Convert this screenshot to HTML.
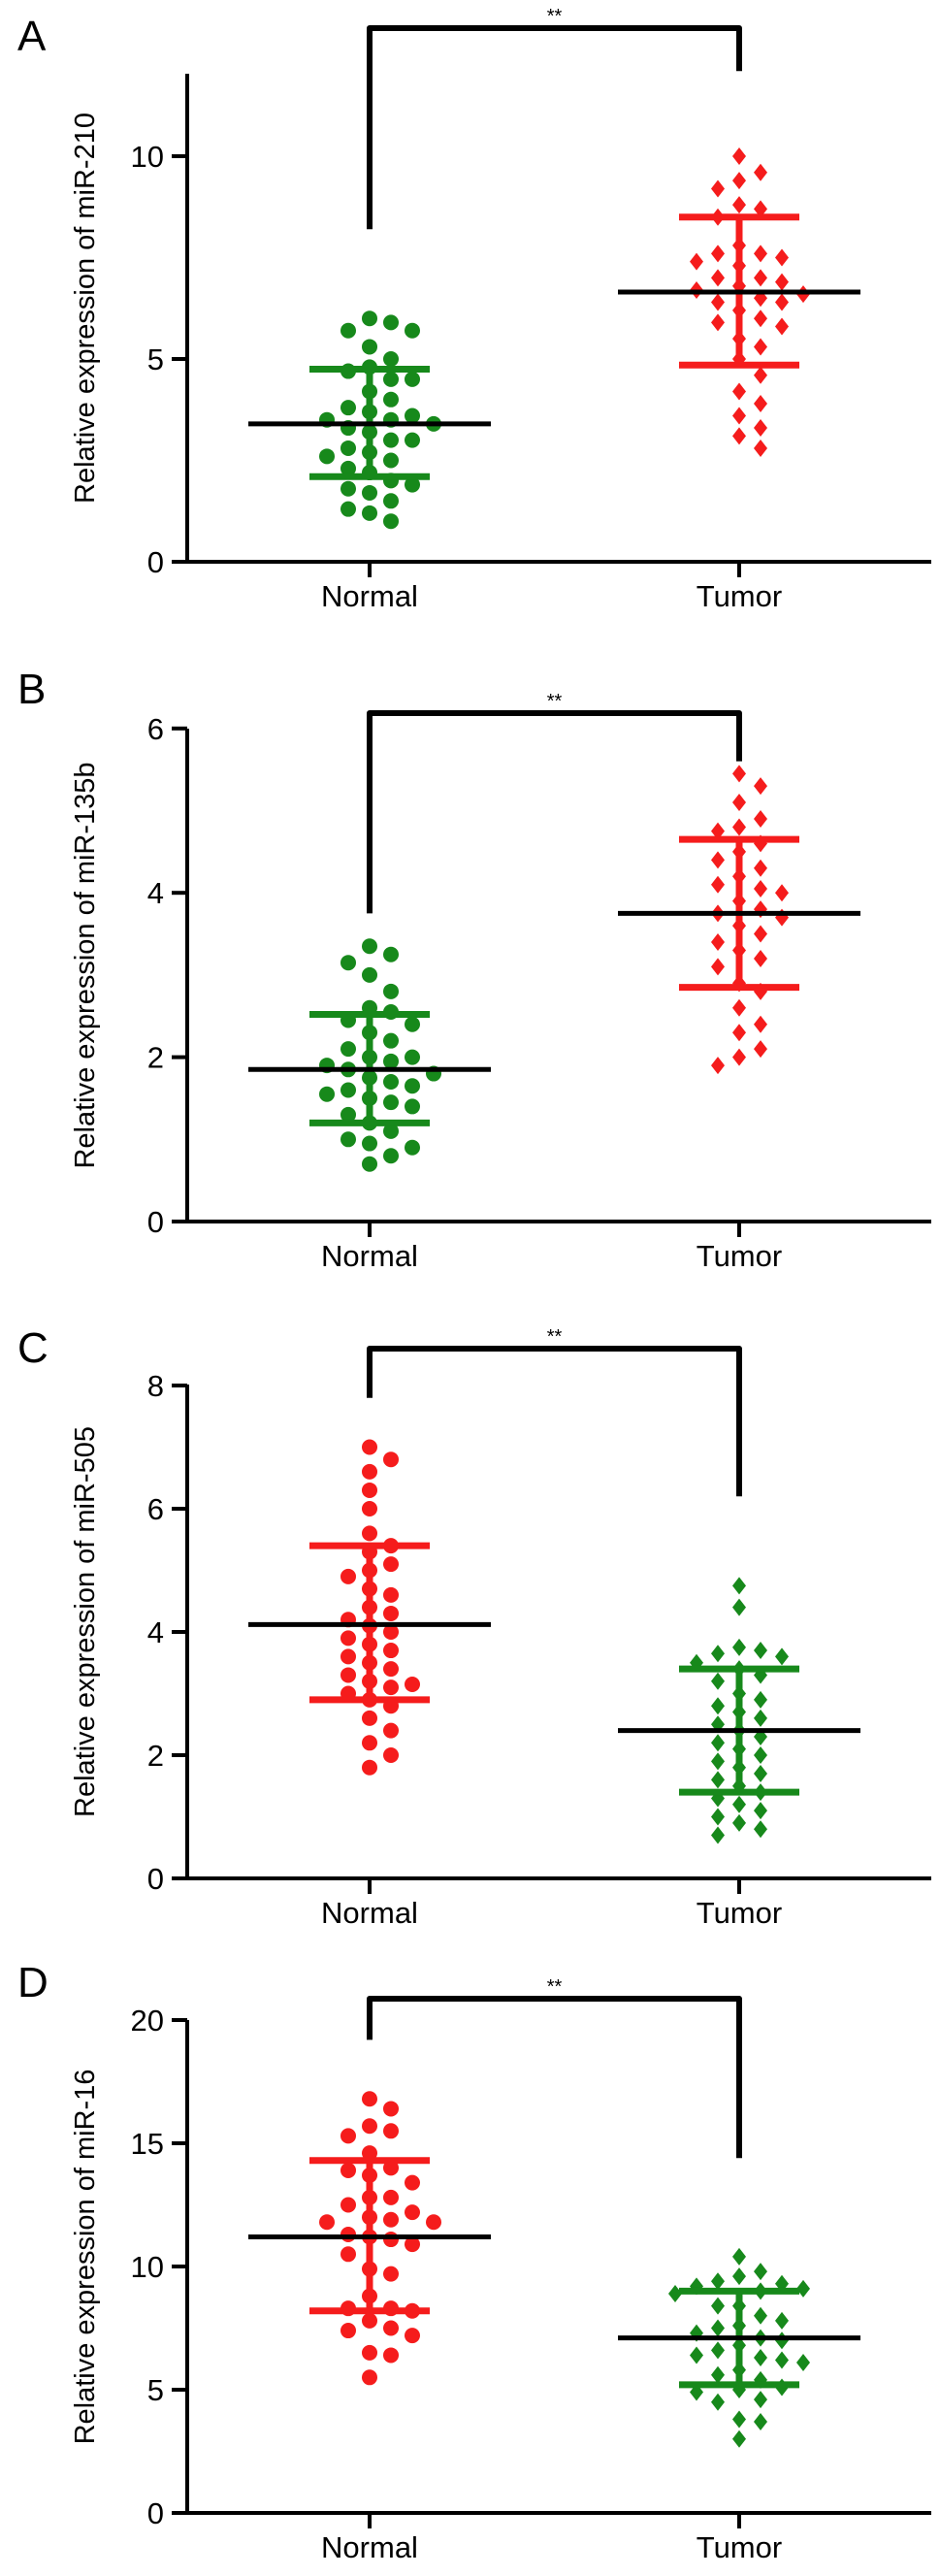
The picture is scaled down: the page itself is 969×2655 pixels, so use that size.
<!DOCTYPE html>
<html><head><meta charset="utf-8"><style>
html,body{margin:0;padding:0;background:#fff;}
svg{display:block;font-family:"Liberation Sans",Arial,sans-serif;}
</style></head><body>
<svg id="fig" width="969" height="2655" viewBox="0 0 969 2655" xmlns="http://www.w3.org/2000/svg"></svg>
<script>
const categories = ["Normal", "Tumor"];
const titles = ["Relative expression of miR-210","Relative expression of miR-135b","Relative expression of miR-505","Relative expression of miR-16"];
const ticksA = [0,5,10], ticksB = [0,2,4,6], ticksC = [0,2,4,6,8], ticksD = [0,5,10,15,20];

const aNormal = [6.0,5.9,5.7,5.7,5.3,5.0,4.8,4.7,4.5,4.5,4.2,4.0,3.8,3.7,3.6,3.5,3.5,3.4,3.3,3.2,3.0,3.0,2.8,2.7,2.6,2.5,2.3,2.2,2.0,1.9,1.8,1.7,1.5,1.3,1.2,1.0];
const aTumor = [10.0,9.6,9.4,9.2,8.8,8.7,8.5,7.8,7.6,7.6,7.5,7.4,7.3,7.0,7.0,6.9,6.8,6.7,6.6,6.5,6.4,6.4,6.2,6.0,5.9,5.8,5.5,5.3,5.0,4.6,4.2,3.9,3.6,3.3,3.1,2.8];
const aMean = [3.4, 6.65], aLow = [2.1, 4.85], aHigh = [4.75, 8.5];

const bNormal = [3.35,3.25,3.15,3.0,2.8,2.6,2.55,2.45,2.4,2.3,2.2,2.1,2.0,2.0,1.95,1.9,1.85,1.8,1.75,1.7,1.65,1.6,1.55,1.5,1.45,1.4,1.3,1.2,1.1,1.0,0.95,0.9,0.8,0.7];
const bTumor = [5.45,5.3,5.1,4.9,4.8,4.75,4.6,4.5,4.4,4.3,4.2,4.1,4.05,4.0,3.9,3.8,3.75,3.7,3.6,3.5,3.4,3.3,3.2,3.1,2.9,2.8,2.6,2.4,2.3,2.1,2.0,1.9];
const bMean = [1.85, 3.75], bLow = [1.2, 2.85], bHigh = [2.52, 4.65];

const cNormal = [7.0,6.8,6.6,6.3,6.0,5.6,5.4,5.3,5.1,5.0,4.9,4.7,4.6,4.4,4.3,4.2,4.1,4.0,3.9,3.8,3.7,3.6,3.5,3.4,3.3,3.2,3.15,3.1,3.0,2.9,2.8,2.6,2.4,2.2,2.0,1.8];
const cTumor = [4.75,4.4,3.75,3.7,3.65,3.6,3.5,3.4,3.3,3.2,3.0,2.9,2.8,2.7,2.6,2.5,2.4,2.3,2.2,2.1,2.0,1.9,1.8,1.7,1.6,1.5,1.4,1.3,1.2,1.1,1.0,0.9,0.8,0.7];
const cMean = [4.12, 2.4], cLow = [2.9, 1.4], cHigh = [5.4, 3.4];

const dNormal = [16.8,16.4,15.7,15.5,15.3,14.6,14.0,13.9,13.7,13.4,12.8,12.8,12.5,12.2,12.0,11.9,11.8,11.8,11.3,11.2,11.1,10.9,10.5,9.9,9.7,8.8,8.3,8.3,8.2,7.8,7.5,7.4,7.2,6.5,6.4,5.5];
const dTumor = [10.4,9.8,9.6,9.4,9.3,9.2,9.1,9.0,8.9,8.4,8.4,8.0,7.8,7.6,7.5,7.3,7.1,7.0,6.8,6.6,6.4,6.3,6.2,6.1,5.8,5.6,5.4,5.1,5.0,4.9,4.6,4.5,3.8,3.7,3.0];
const dMean = [11.2, 7.1], dLow = [8.2, 5.2], dHigh = [14.3, 9.0];

const GREEN = "#17891b", RED = "#f51c1c";
const NS = "http://www.w3.org/2000/svg";
const svg = document.getElementById("fig");
function mk(tag, attrs, parent){
  const e = document.createElementNS(NS, tag);
  for (const k in attrs) e.setAttribute(k, attrs[k]);
  (parent||svg).appendChild(e);
  return e;
}

const panels = [
  {letter:"A", letterY:52, y0:579, ppu:41.8, axisTop:76, ticks:ticksA, title:titles[0], brTop:29, brL:8.2, brR:12.1,
   groups:[aNormal,aTumor], mean:aMean, low:aLow, high:aHigh, colors:[GREEN,RED], shapes:["circle","diamond"]},
  {letter:"B", letterY:725, y0:1259, ppu:84.7, axisTop:751, ticks:ticksB, title:titles[1], brTop:735, brL:3.75, brR:5.6,
   groups:[bNormal,bTumor], mean:bMean, low:bLow, high:bHigh, colors:[GREEN,RED], shapes:["circle","diamond"]},
  {letter:"C", letterY:1404, y0:1936, ppu:63.5, axisTop:1427, ticks:ticksC, title:titles[2], brTop:1390, brL:7.8, brR:6.2,
   groups:[cNormal,cTumor], mean:cMean, low:cLow, high:cHigh, colors:[RED,GREEN], shapes:["circle","diamond"]},
  {letter:"D", letterY:2058, y0:2590, ppu:25.4, axisTop:2082, ticks:ticksD, title:titles[3], brTop:2060, brL:19.2, brR:14.4,
   groups:[dNormal,dTumor], mean:dMean, low:dLow, high:dHigh, colors:[RED,GREEN], shapes:["circle","diamond"]}
];
const AX = 193, AXR = 960, CX = [381, 762];

panels.forEach((p, pi) => {
  const g = mk("g", {});
  
  
  const Y = v => p.y0 - v * p.ppu;

  const lt = mk("text", {x:18, y:p.letterY, "font-size":44}, g);
  lt.textContent = p.letter;
  
  

  const ttl = mk("text", {x:0, y:0, "font-size":29, "text-anchor":"middle", transform:`translate(97 ${(p.axisTop+p.y0)/2 - 10}) rotate(-90)`}, g);
  ttl.textContent = p.title;
  
  

  const ya = mk("line", {x1:AX, y1:p.axisTop, x2:AX, y2:p.y0+2, stroke:"#000", "stroke-width":4}, g);
  
  
  p.ticks.forEach(t => {
    const tk = mk("line", {x1:AX-16, y1:Y(t), x2:AX, y2:Y(t), stroke:"#000", "stroke-width":4}, g);
    
    
    const tl = mk("text", {x:AX-24, y:Y(t)+11, "font-size":31, "text-anchor":"end"}, g);
    tl.textContent = t;
    
    
  });
  const xa = mk("line", {x1:AX-2, y1:p.y0, x2:AXR, y2:p.y0, stroke:"#000", "stroke-width":4}, g);
  
  
  categories.forEach((c, i) => {
    const tk = mk("line", {x1:CX[i], y1:p.y0, x2:CX[i], y2:p.y0+16, stroke:"#000", "stroke-width":4}, g);
    
    
    const tl = mk("text", {x:CX[i], y:p.y0+46, "font-size":31, "text-anchor":"middle"}, g);
    tl.textContent = c;
    
    
  });

  const br = mk("path", {d:`M${CX[0]} ${Y(p.brL)} V${p.brTop} H${CX[1]} V${Y(p.brR)}`, fill:"none", stroke:"#000", "stroke-width":6, "stroke-linejoin":"round"}, g);
  
  
  const st = mk("text", {x:(CX[0]+CX[1])/2, y:p.brTop-6, "font-size":20, "text-anchor":"middle"}, g);
  st.textContent = "**";
  
  

  p.groups.forEach((vals, gi) => {
    const col = p.colors[gi];
    const placed = [];
    const order = vals.slice().sort((a,b)=>b-a);
    order.forEach(v => {
      const y = Y(v);
      let off = 0;
      for (let k = 0; k < 40; k++) {
        const cand = k === 0 ? 0 : (k % 2 ? 1 : -1) * Math.ceil(k/2) * 22;
        if (placed.every(q => Math.hypot(q.x - cand, q.y - y) >= 19)) { off = cand; break; }
      }
      placed.push({x:off, y:y});
      const x = CX[gi] + off;
      let m;
      if (p.shapes[gi] === "circle") {
        m = mk("circle", {cx:x, cy:y, r:8, fill:col}, g);
      } else {
        m = mk("path", {d:`M${x} ${y-9} L${x+7} ${y} L${x} ${y+9} L${x-7} ${y} Z`, fill:col}, g);
      }
      
      
    });
    const eb = mk("path", {d:`M${CX[gi]} ${Y(p.low[gi])} V${Y(p.high[gi])} M${CX[gi]-62} ${Y(p.high[gi])} H${CX[gi]+62} M${CX[gi]-62} ${Y(p.low[gi])} H${CX[gi]+62}`, stroke:col, "stroke-width":7, fill:"none"}, g);
    
    
    const mn = mk("line", {x1:CX[gi]-125, y1:Y(p.mean[gi]), x2:CX[gi]+125, y2:Y(p.mean[gi]), stroke:"#000", "stroke-width":5}, g);
    
    
  });
});
</script>
</body></html>
